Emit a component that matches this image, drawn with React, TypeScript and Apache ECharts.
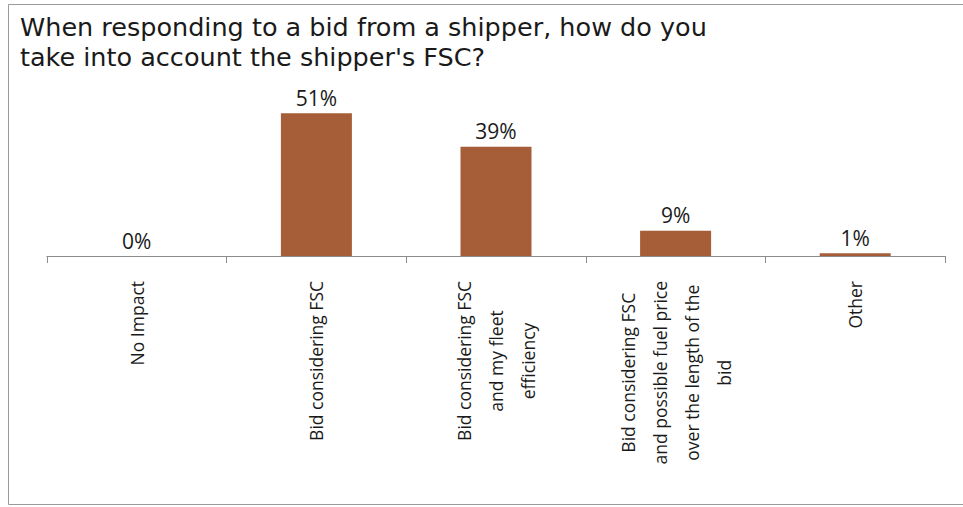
import React, { useEffect, useRef } from "react";
import * as echarts from "echarts";

const titleLines = [
  "When responding to a bid from a shipper, how do you",
  "take into account the shipper's FSC?",
];
const categories = [
  "No Impact",
  "Bid considering FSC",
  "Bid considering FSC\nand my fleet\nefficiency",
  "Bid considering FSC\nand possible fuel price\nover the length of the\nbid",
  "Other",
];
const values = [0, 51, 39, 9, 1];

const FONT = "'Open Sans', 'Noto Sans', sans-serif";
const TITLE_FONT = "'DejaVu Sans', 'Open Sans', sans-serif";

export default function App() {
  const ref = useRef<HTMLDivElement>(null);
  useEffect(() => {
    if (!ref.current) return;
    const chart = echarts.init(ref.current, undefined, { renderer: "svg" });
    chart.setOption({
      animation: false,
      backgroundColor: "#ffffff",
      title: titleLines.map((t, i) => ({
        text: t,
        left: 15,
        top: 13 + i * 30,
        padding: [0, 5, 0, 5],
        textStyle: {
          fontFamily: TITLE_FONT,
          fontSize: 25.5,
          fontWeight: "normal",
          color: "#1a1a1a",
          lineHeight: 28,
        },
      })),
      graphic: [
        {
          type: "rect",
          shape: { x: 8.5, y: 4.5, width: 970, height: 500 },
          style: { fill: "none", stroke: "#9a9a9a", lineWidth: 1 },
          silent: true,
        },
      ],
      grid: { left: 47, right: 18, top: 88, bottom: 507 - 256 },
      xAxis: {
        type: "category",
        data: categories,
        boundaryGap: true,
        axisLine: { lineStyle: { color: "#8c8c8c", width: 1.2 } },
        axisTick: { show: true, length: 7, lineStyle: { color: "#8c8c8c" } },
        axisLabel: {
          interval: 0,
          rotate: 90,
          margin: 25,
          formatter: (v: string) =>
            v
              .split("\n")
              .map((l) => `{c|${l}}`)
              .join("\n"),
          rich: {
            c: {
              align: "center",
              fontFamily: FONT,
              fontSize: 17.5,
              lineHeight: 32,
              color: "#1a1a1a",
            },
          },
        },
      },
      yAxis: {
        type: "value",
        min: 0,
        max: 60,
        show: false,
        splitLine: { show: false },
      },
      series: [
        {
          type: "bar",
          data: values,
          barWidth: 71,
          itemStyle: { color: "#A55E38" },
          label: {
            show: true,
            position: "top",
            distance: 5,
            formatter: "{c}%",
            fontFamily: FONT,
            fontSize: 21,
            color: "#1a1a1a",
          },
        },
      ],
    });
    return () => chart.dispose();
  }, []);
  return (
    <div
      ref={ref}
      style={{ position: "absolute", left: 0, top: 0, width: 963, height: 507 }}
    />
  );
}
